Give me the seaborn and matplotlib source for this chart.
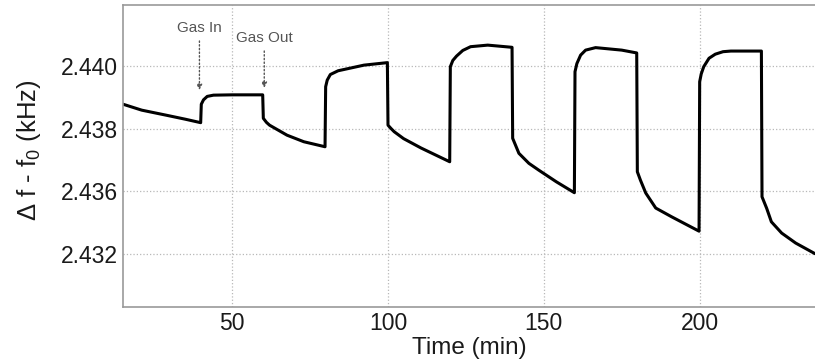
import numpy as np
import pandas as pd
import seaborn as sns
import matplotlib.pyplot as plt

# ---------- data ----------
time_min = [15, 21, 28.8, 35, 39.9,
            40.1, 40.8, 42, 44, 50, 59.8,
            60, 61, 62, 67.6, 73, 79.8,
            80, 80.5, 81.5, 84, 92.3, 99.8,
            100, 101, 102, 105, 110.6, 119.8,
            120, 120.8, 122, 124, 126.5, 132, 139.8,
            140, 141, 142, 145.2, 148.4, 154, 159.8,
            160, 160.6, 161.8, 163.4, 166.6, 175, 179.8,
            180, 181, 182.7, 185.9, 191, 199.8,
            200, 200.5, 201.3, 203, 205, 207.5, 210, 219.8,
            220, 221.5, 223, 226.3, 230.8, 237]
delta_f = [2.43878, 2.43859, 2.43843, 2.43830, 2.43819,
           2.43878, 2.43892, 2.43903, 2.43907, 2.43908, 2.43908,
           2.43833, 2.43820, 2.43811, 2.43779, 2.43758, 2.43742,
           2.43934, 2.43955, 2.43973, 2.43985, 2.44003, 2.44011,
           2.43811, 2.43800, 2.43790, 2.43768, 2.43738, 2.43694,
           2.43998, 2.44018, 2.44032, 2.44050, 2.44062, 2.44067, 2.44060,
           2.43769, 2.43745, 2.43721, 2.43689, 2.43667, 2.43630, 2.43595,
           2.43982, 2.44008, 2.44035, 2.44051, 2.44059, 2.44051, 2.44042,
           2.43662, 2.43635, 2.43594, 2.43546, 2.43518, 2.43472,
           2.43950, 2.43975, 2.43998, 2.44025, 2.44038, 2.44046, 2.44048, 2.44048,
           2.43582, 2.43545, 2.43502, 2.43466, 2.43434, 2.43400]

x_ticks = [50, 100, 150, 200]
y_ticks = [2.434, 2.436, 2.438, 2.440]
y_tick_labels = ["2.432", "2.436", "2.438", "2.440"]

# arrows: (label, time, tip value, text value)
notes = [("Gas In", 39.5, 2.43923, 2.44122),
         ("Gas Out", 60.3, 2.43930, 2.44090)]

df = pd.DataFrame({"time": time_min, "delta": delta_f})

# ---------- style ----------
sns.set_style("white")
plt.rcParams['font.family'] = ['Liberation Sans', 'DejaVu Sans']
plt.rcParams['mathtext.fontset'] = 'custom'
plt.rcParams['mathtext.rm'] = 'Liberation Sans'
plt.rcParams['mathtext.it'] = 'Liberation Sans:italic'

fig = plt.figure(figsize=(8.15, 3.64), dpi=100)
ax = fig.add_axes([0.151, 0.157, 0.849, 0.829])

sns.lineplot(data=df, x="time", y="delta", sort=False, color="black",
             linewidth=2.2, ax=ax)

ax.set_xlim(15, 237)
ax.set_ylim(2.4323, 2.44195)
ax.set_xticks(x_ticks)
ax.set_yticks(y_ticks)
ax.set_yticklabels(y_tick_labels)
ax.tick_params(axis="both", direction="in", length=4, color="#888888",
               labelsize=16.5, labelcolor="#1a1a1a", pad=4)

ax.grid(True, linestyle=":", color="#b8b8b8", linewidth=0.9)
for side in ["left", "bottom", "top"]:
    ax.spines[side].set_color("#999999")
    ax.spines[side].set_linewidth(1.2)
ax.spines["right"].set_visible(False)

ax.set_xlabel("Time (min)", fontsize=17.5, color="#1a1a1a", labelpad=1)
ax.set_ylabel(r"Δ f - f$_\mathrm{0}$ (kHz)", fontsize=18.5, color="#1a1a1a")
ax.yaxis.set_label_coords(-0.115, 0.52)

for label, t, tip, txt in notes:
    ax.annotate(label, xy=(t, tip), xytext=(t, txt), ha="center", va="center",
                fontsize=11, color="#555555",
                arrowprops=dict(arrowstyle="-|>", linestyle=":", color="#555555",
                                linewidth=1.0, shrinkA=2, shrinkB=0,
                                mutation_scale=8))

fig.savefig("out.png", dpi=100)
